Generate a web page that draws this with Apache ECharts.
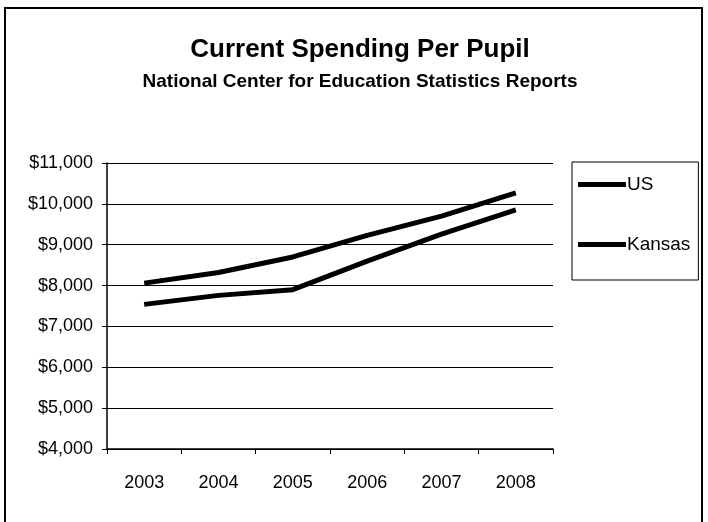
<!DOCTYPE html>
<html>
<head>
<meta charset="utf-8">
<script src="https://cdn.jsdelivr.net/npm/echarts@6/dist/echarts.min.js"></script>
<style>
  html, body { margin: 0; padding: 0; background: #fff; }
  #chart { width: 708px; height: 522px; }
</style>
</head>
<body>
<div id="chart"></div>
<script>
// data
const years = ["2003", "2004", "2005", "2006", "2007", "2008"];
const usSpending = [8060, 8320, 8700, 9230, 9700, 10270];
const kansasSpending = [7540, 7760, 7900, 8600, 9260, 9850];
const yTicks = [4000, 5000, 6000, 7000, 8000, 9000, 10000, 11000];

const narrow = "'Liberation Sans Narrow', 'Arial Narrow', 'Liberation Sans', Arial, sans-serif";
const plain = "'Liberation Sans', Arial, sans-serif";

const chart = echarts.init(document.getElementById("chart"));

const option = {
  backgroundColor: "#fff",
  animation: false,
  title: {
    text: "Current Spending Per Pupil",
    subtext: "National Center for Education Statistics Reports",
    left: 355,
    textAlign: "center",
    top: 32,
    itemGap: 9,
    textStyle: { fontFamily: narrow, fontSize: 26, fontWeight: "bold", color: "#000" },
    subtextStyle: { fontFamily: narrow, fontSize: 19, fontWeight: "bold", color: "#000" },
  },
  graphic: [
    {
      // outer frame
      type: "rect",
      shape: { x: 5, y: 8, width: 697, height: 540 },
      style: { fill: "none", stroke: "#000", lineWidth: 2 },
      z: 0,
    },
  ],
  legend: {
    orient: "vertical",
    left: 572,
    top: 162,
    padding: [13, 8, 26, 6],
    itemGap: 41,
    itemWidth: 48,
    itemHeight: 19,
    borderColor: "#000",
    borderWidth: 1,
    icon: "path://M0,7L48,7L48,12L0,12Z",
    textStyle: { fontFamily: plain, fontSize: 19, color: "#000", padding: [0, 0, 0, -4] },
    data: ["US", "Kansas"],
  },
  grid: {
    left: 107,
    right: 155,
    top: 163,
    bottom: 73,
  },
  xAxis: {
    type: "category",
    data: years,
    boundaryGap: true,
    axisLine: { lineStyle: { color: "#000", width: 1.5 } },
    axisTick: { show: true, length: 5, lineStyle: { color: "#000" } },
    axisLabel: { fontFamily: plain, fontSize: 18, color: "#000", margin: 25 },
  },
  yAxis: {
    type: "value",
    min: yTicks[0],
    max: yTicks[yTicks.length - 1],
    interval: 1000,
    axisLine: { show: true, lineStyle: { color: "#000", width: 1.5 } },
    axisTick: { show: true, length: 5, lineStyle: { color: "#000" } },
    splitLine: { show: true, lineStyle: { color: "#000", width: 1 } },
    axisLabel: {
      fontFamily: plain,
      fontSize: 18,
      color: "#000",
      margin: 14,
      formatter: function (v) {
        return "$" + v.toLocaleString("en-US");
      },
    },
  },
  series: [
    {
      name: "US",
      type: "line",
      data: usSpending,
      symbol: "none",
      lineStyle: { color: "#000", width: 5 },
      itemStyle: { color: "#000" },
    },
    {
      name: "Kansas",
      type: "line",
      data: kansasSpending,
      symbol: "none",
      lineStyle: { color: "#000", width: 5 },
      itemStyle: { color: "#000" },
    },
  ],
};

chart.setOption(option);
</script>
</body>
</html>
